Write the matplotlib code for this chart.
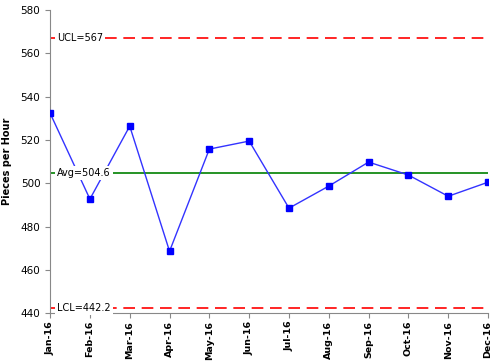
import matplotlib
matplotlib.use("Agg")
import matplotlib.pyplot as plt

# monthly data
months = ['Jan-16', 'Feb-16', 'Mar-16', 'Apr-16', 'May-16', 'Jun-16',
          'Jul-16', 'Aug-16', 'Sep-16', 'Oct-16', 'Nov-16', 'Dec-16']
pieces = [532.4, 492.7, 526.4, 468.6, 515.8, 519.5, 488.5, 498.7, 509.8, 503.8, 494.0, 500.5]
avg = 504.6
ucl = 567
lcl = 442.2
yticks = [440, 460, 480, 500, 520, 540, 560, 580]

fig = plt.figure(figsize=(4.96, 3.62), dpi=100)
ax = fig.add_axes([0.101, 0.135, 0.883, 0.837])

x = list(range(len(months)))
ax.plot(x, pieces, color='#3333ff', lw=1, marker='s', markersize=5,
        markerfacecolor='#0000ff', markeredgecolor='#0000ff', zorder=3)
ax.axhline(avg, color='#008000', lw=1.2, zorder=2)
ax.axhline(ucl, color='#ff0000', lw=1.2, ls=(0, (7, 4)), zorder=2)
ax.axhline(lcl, color='#ff0000', lw=1.2, ls=(0, (7, 4)), zorder=2)

box = dict(facecolor='white', edgecolor='none', pad=1.5)
ax.text(0.17, ucl, 'UCL=567', fontsize=7, va='center', ha='left', bbox=box, zorder=4)
ax.text(0.17, avg, 'Avg=504.6', fontsize=7, va='center', ha='left', bbox=box, zorder=4)
ax.text(0.17, lcl, 'LCL=442.2', fontsize=7, va='center', ha='left', bbox=box, zorder=4)

ax.set_xlim(0, 11)
ax.set_ylim(440, 580)
ax.set_yticks(yticks)
ax.set_xticks(x)
ax.set_xticklabels(months, rotation=90, fontweight='bold', fontsize=6.8)
for t in ax.get_yticklabels():
    t.set_fontsize(7.5)
ax.set_ylabel('Pieces per Hour', fontweight='bold', fontsize=7, labelpad=6)

for s in ['top', 'right']:
    ax.spines[s].set_visible(False)
for s in ['left', 'bottom']:
    ax.spines[s].set_color('#888888')
ax.tick_params(colors='#888888', labelcolor='black', length=3.5)
ax.tick_params(axis='x', pad=2)

fig.savefig('out.png', dpi=100)
